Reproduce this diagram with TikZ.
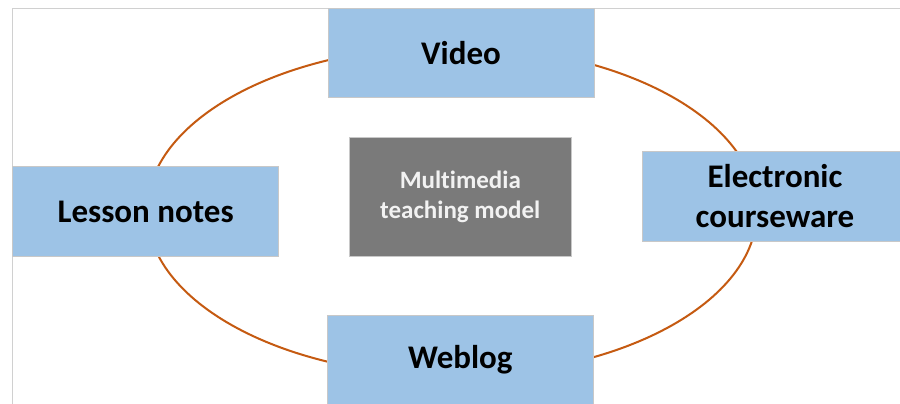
\documentclass[tikz,border=0pt]{standalone}
\usepackage{fontspec}
\setmainfont[Ligatures=CommonOff]{Carlito}
\definecolor{boxblue}{HTML}{9DC3E6}
\definecolor{boxline}{HTML}{C8C8C8}
\definecolor{centergray}{HTML}{7A7A7A}
\definecolor{ringorange}{HTML}{C55A11}
\definecolor{framegray}{HTML}{D0D0D0}
\tikzset{
  bluebox/.style={draw=boxline, line width=0.8pt, fill=boxblue, minimum width=266pt, minimum height=89.5pt, inner sep=0pt, align=center, font=\fontsize{33}{40}\selectfont\bfseries, text=black},
  centerbox/.style={draw=boxline, line width=0.8pt, fill=centergray, minimum width=222pt, minimum height=118.7pt, inner sep=0pt, align=center, font=\fontsize{25}{30}\selectfont\bfseries, text=white!95!black},
  ring/.style={draw=ringorange, line width=2pt}
}
\begin{document}
\begin{tikzpicture}[x=1pt,y=-1pt]
\useasboundingbox (0,0) rectangle (900,404);
\fill[white] (0,0) rectangle (900,404);
\draw[framegray, line width=0.9pt] (12.5,410) -- (12.5,8) -- (910,8);
\draw[ring] (452,211) ellipse [x radius=305, y radius=165];
\node[bluebox] (video) at (461,52.8) {Video};
\node[bluebox] (lesson) at (145.6,211.5) {Lesson notes};
\node[bluebox] (elec) at (775,196.5) {Electronic\\courseware};
\node[bluebox] (weblog) at (460.3,359.8) {Weblog};
\node[centerbox] (center) at (460.3,196.7) {Multimedia\\teaching model};
\end{tikzpicture}
\end{document}
